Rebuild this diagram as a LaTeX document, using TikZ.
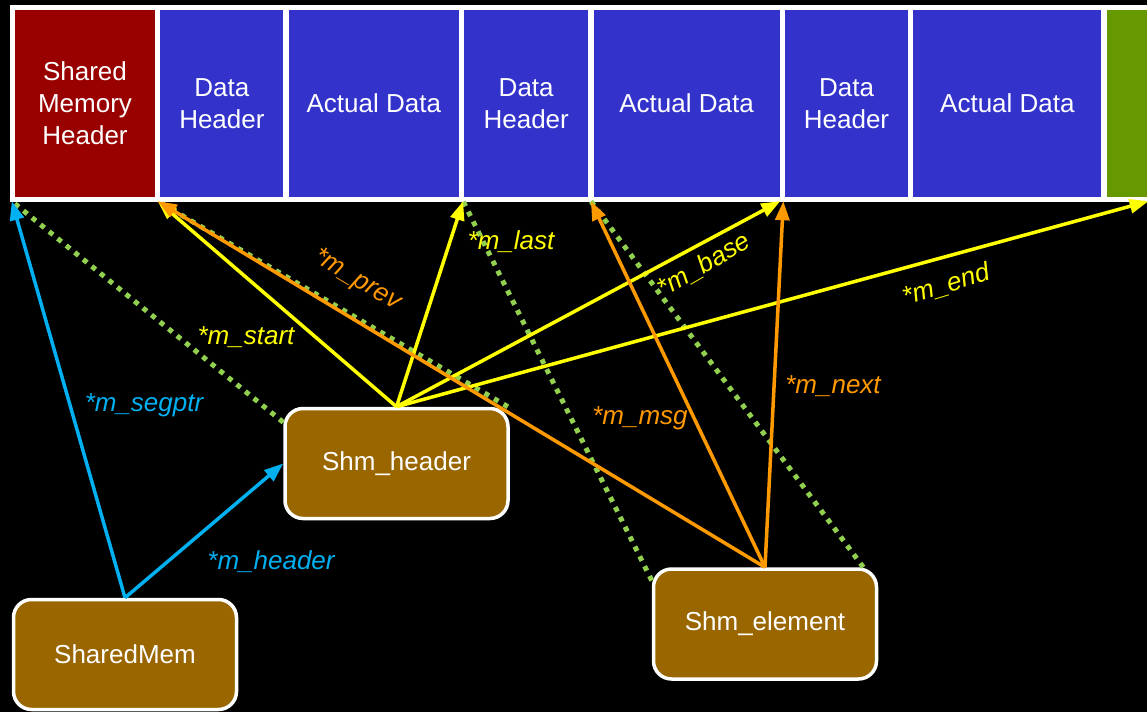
\documentclass[tikz,border=0pt]{standalone}
\usepackage{fontspec}
\setmainfont{Liberation Sans}
\usetikzlibrary{arrows.meta,positioning,calc}
\definecolor{hdrred}{RGB}{153,0,0}
\definecolor{segblue}{RGB}{51,51,204}
\definecolor{tailgreen}{RGB}{102,153,0}
\definecolor{structbrown}{RGB}{153,102,0}
\definecolor{ptrcyan}{RGB}{0,176,240}
\definecolor{ptryellow}{RGB}{255,255,0}
\definecolor{ptrorange}{RGB}{255,153,0}
\definecolor{linkgreen}{RGB}{146,208,80}

\begin{document}
\begin{tikzpicture}[x=1pt, y=-1pt,
  font=\fontsize{26}{32}\selectfont,
  cell/.style={fill=#1, text=white, inner sep=0pt, minimum height=187pt, align=center},
  struct/.style={draw=white, line width=3.5pt, fill=structbrown, rounded corners=18pt,
                 text=white, minimum width=223pt, minimum height=110pt},
  ptr/.style={draw=#1, line width=3.5pt, -{Triangle[length=19pt,width=14pt]}},
  link/.style={draw=linkgreen, line width=5pt, dash pattern=on 5pt off 6pt},
  lbl/.style={text=#1, font=\fontsize{26}{32}\selectfont\itshape},
]
  \clip (0,0) rectangle (1147,712);
  \fill[black] (0,0) rectangle (1147,712);

  % segment layout
  \fill[white] (10,5) rectangle (1170,202);
  \node[cell=hdrred, minimum width=140pt] (shm) at (85,103.5) {Shared\\Memory\\Header};
  \node[cell=segblue, minimum width=123pt, right=5pt of shm] (dh1) {Data\\Header};
  \node[cell=segblue, minimum width=170pt, right=5pt of dh1] (ad1) {Actual Data};
  \node[cell=segblue, minimum width=124pt, right=5pt of ad1] (dh2) {Data\\Header};
  \node[cell=segblue, minimum width=186pt, right=5pt of dh2] (ad2) {Actual Data};
  \node[cell=segblue, minimum width=123pt, right=5pt of ad2] (dh3) {Data\\Header};
  \node[cell=segblue, minimum width=188pt, right=5pt of dh3] (ad3) {Actual Data};
  \node[cell=tailgreen, minimum width=60pt, right=5pt of ad3] (tail) {};

  % pointer targets under the bar
  \coordinate (g0) at ($(shm.south west)+(-3,4)$);
  \coordinate (g1) at ($(shm.south east)!.5!(dh1.south west)+(0,4)$);
  \coordinate (g2) at ($(dh1.south east)!.5!(ad1.south west)+(177,4)$);
  \coordinate (g3) at ($(dh2.south east)!.5!(ad2.south west)+(0,4)$);
  \coordinate (g4) at ($(ad2.south east)!.5!(dh3.south west)+(0,4)$);
  \coordinate (g5) at ($(tail.south west)+(42,4)$);

  % structs
  \node[struct] (sm) at (125,654.5) {SharedMem};
  \node[struct] (hdr) at (396.5,463.5) {Shm\_header};
  \node[struct] (elem) at (765,624) {Shm\_element};

  % dotted links
  \draw[link] (hdr.160) -- (g0);
  \draw[link] (hdr.27) -- (g1);
  \draw[link] (elem.159) -- (g2);
  \draw[link] (elem.30) -- (g3);

  % SharedMem
  \draw[ptr=ptrcyan] (sm.north) -- (g0);
  \draw[ptr=ptrcyan] (sm.north) -- (hdr.west);

  % Shm_header
  \draw[ptr=ptryellow] (hdr.north) -- (g1);
  \draw[ptr=ptryellow] (hdr.north) -- (g2);
  \draw[ptr=ptryellow] (hdr.north) -- ($(g4)+(-2,0)$);
  \draw[ptr=ptryellow] (hdr.north) -- (g5);

  % Shm_element
  \draw[ptr=ptrorange] (elem.north) -- (g1);
  \draw[ptr=ptrorange] (elem.north) -- (g3);
  \draw[ptr=ptrorange] (elem.north) -- ($(g4)+(1,0)$);

  % labels
  \node[lbl=ptrcyan] (lsegptr) at (144,405) {*m\_segptr};
  \node[lbl=ptrcyan] (lheader) at (271,562) {*m\_header};
  \node[lbl=ptryellow] (lstart) at (246,337) {*m\_start};
  \node[lbl=ptryellow] (llast) at (511,242) {*m\_last};
  \node[lbl=ptryellow, rotate=30] (lbase) at (704,265) {*m\_base};
  \node[lbl=ptryellow, rotate=17] (lend) at (946,285) {*m\_end};
  \node[lbl=ptrorange, rotate=-31] (lprev) at (357,280) {*m\_prev};
  \node[lbl=ptrorange] (lmsg) at (640,418) {*m\_msg};
  \node[lbl=ptrorange] (lnext) at (833,386) {*m\_next};
\end{tikzpicture}
\end{document}
